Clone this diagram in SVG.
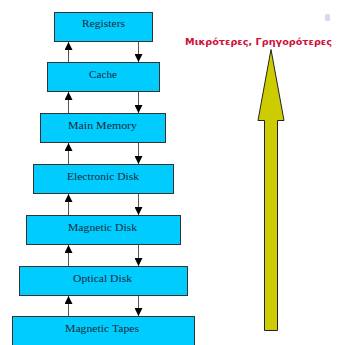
<svg xmlns="http://www.w3.org/2000/svg" width="337" height="345" viewBox="0 0 337 345">
<defs>
<marker id="ah" viewBox="0 0 8 8" refX="8" refY="4" markerWidth="8" markerHeight="8" markerUnits="userSpaceOnUse" orient="auto">
<path d="M0,0 L8,4 L0,8 z" fill="#000"/>
</marker>
<style>
.box{fill:#00CCFF;stroke:#333;stroke-width:1}
.lbl{font-family:"Liberation Serif",serif;font-size:11px;fill:#1a2a3a;text-anchor:middle}
.con{stroke:#555;stroke-width:1;fill:none;marker-end:url(#ah)}
</style>
</defs>
<rect width="337" height="345" fill="#fff"/>
<g id="registers"><rect class="box" x="54.5" y="12.5" width="98" height="29"/><text class="lbl" x="103.5" y="27" textLength="43" lengthAdjust="spacingAndGlyphs">Registers</text></g>
<g id="cache"><rect class="box" x="47.5" y="62.5" width="112" height="29"/><text class="lbl" x="103" y="77.5" textLength="28" lengthAdjust="spacingAndGlyphs">Cache</text></g>
<g id="main-memory"><rect class="box" x="40.5" y="113.5" width="125" height="29"/><text class="lbl" x="102.5" y="128.5" textLength="69" lengthAdjust="spacingAndGlyphs">Main Memory</text></g>
<g id="electronic-disk"><rect class="box" x="33.5" y="164.5" width="140" height="29"/><text class="lbl" x="103" y="180" textLength="72" lengthAdjust="spacingAndGlyphs">Electronic Disk</text></g>
<g id="magnetic-disk"><rect class="box" x="26.5" y="215.5" width="154" height="29"/><text class="lbl" x="102.5" y="231" textLength="69" lengthAdjust="spacingAndGlyphs">Magnetic Disk</text></g>
<g id="optical-disk"><rect class="box" x="19.5" y="266.5" width="168" height="29"/><text class="lbl" x="102.5" y="281.5" textLength="59" lengthAdjust="spacingAndGlyphs">Optical Disk</text></g>
<g id="magnetic-tapes"><rect class="box" x="12.5" y="316.5" width="182" height="30"/><text class="lbl" x="102" y="332" textLength="74" lengthAdjust="spacingAndGlyphs">Magnetic Tapes</text></g>
<g id="connectors">
<line class="con" x1="68.5" y1="62" x2="68.5" y2="42"/>
<line class="con" x1="138.5" y1="42" x2="138.5" y2="62"/>
<line class="con" x1="68.5" y1="113" x2="68.5" y2="92"/>
<line class="con" x1="138.5" y1="92" x2="138.5" y2="113"/>
<line class="con" x1="68.5" y1="164" x2="68.5" y2="143"/>
<line class="con" x1="138.5" y1="143" x2="138.5" y2="164"/>
<line class="con" x1="68.5" y1="215" x2="68.5" y2="194"/>
<line class="con" x1="138.5" y1="194" x2="138.5" y2="215"/>
<line class="con" x1="68.5" y1="266" x2="68.5" y2="245"/>
<line class="con" x1="138.5" y1="245" x2="138.5" y2="266"/>
<line class="con" x1="68.5" y1="316" x2="68.5" y2="296"/>
<line class="con" x1="138.5" y1="296" x2="138.5" y2="316"/>
</g>
<g id="speed-arrow">
<path d="M271,49.5 L284,120.5 L277.5,120.5 L277.5,330.5 L264.5,330.5 L264.5,120.5 L258,120.5 Z" fill="#CCCC00" stroke="#222" stroke-width="1"/>
</g>
<text x="185" y="45" font-family="'DejaVu Sans',sans-serif" font-size="9" font-weight="bold" fill="#D0103A" textLength="147" lengthAdjust="spacingAndGlyphs">Μικρότερες, Γρηγορότερες</text>
<rect x="325" y="14" width="5" height="7" rx="1.5" fill="#D8D8EE"/>
</svg>
